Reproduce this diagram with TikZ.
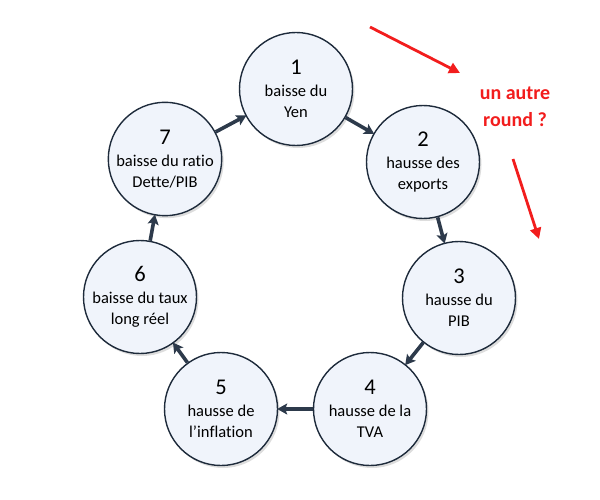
\documentclass[tikz,border=0pt]{standalone}
\usepackage{fontspec}
\setmainfont[Ligatures=NoCommon]{Carlito}
\usetikzlibrary{arrows.meta,shadows}
\definecolor{cfill}{HTML}{F0F4FB}
\definecolor{cborder}{HTML}{1E2B3B}
\definecolor{carrow}{HTML}{2D3A4B}
\definecolor{redc}{HTML}{F21D1D}
\tikzset{
  stage/.style={circle, draw=cborder, line width=1.4pt, fill=cfill,
    minimum size=113pt, inner sep=0pt, align=center,
    font=\fontsize{16.5}{21}\selectfont,
    drop shadow={shadow xshift=2pt, shadow yshift=-2.5pt, opacity=0.22, fill=black!60}},
  flow/.style={line width=3.6pt, draw=carrow, -{Stealth[length=10pt,width=11pt,inset=2pt]}, shorten >=-1pt},
  redarrow/.style={line width=2.8pt, draw=redc, -{Triangle[length=11pt,width=11pt]}}
}
\newcommand{\bignum}[1]{{\fontsize{22.5}{22}\selectfont #1}}
\begin{document}
\begin{tikzpicture}[x=1pt,y=1pt]
\useasboundingbox (0,0) rectangle (600,499);
\node[stage] (c1) at (296,410) {\bignum{1}\\[1pt]baisse du\\Yen};
\node[stage] (c2) at (423,337) {\bignum{2}\\[1pt]hausse des\\exports};
\node[stage] (c3) at (459,201) {\bignum{3}\\[1pt]hausse du\\PIB};
\node[stage] (c4) at (370,90) {\bignum{4}\\[1pt]hausse de la\\TVA};
\node[stage] (c5) at (221,90) {\bignum{5}\\[1pt]hausse de\\l’inflation};
\node[stage] (c6) at (140,202) {\bignum{6}\\[1pt]baisse du taux\\long réel};
\node[stage] (c7) at (165,340) {\bignum{7}\\[1pt]baisse du ratio\\Dette/PIB};
\draw[flow] (c1) -- (c2);
\draw[flow] (c2) -- (c3);
\draw[flow] (c3) -- (c4);
\draw[flow] (c4) -- (c5);
\draw[flow] (c5) -- (c6);
\draw[flow] (c6) -- (c7);
\draw[flow] (c7) -- (c1);
\node[text=redc, font=\bfseries\fontsize{20}{27}\selectfont, align=center] (q) at (515,392) {un autre\\round ?};
\coordinate (r1s) at (370,472);
\coordinate (r1e) at (460,426);
\coordinate (r2s) at (513,340);
\coordinate (r2e) at (539,260);
\draw[redarrow] (r1s) -- (r1e);
\draw[redarrow] (r2s) -- (r2e);
\end{tikzpicture}
\end{document}
